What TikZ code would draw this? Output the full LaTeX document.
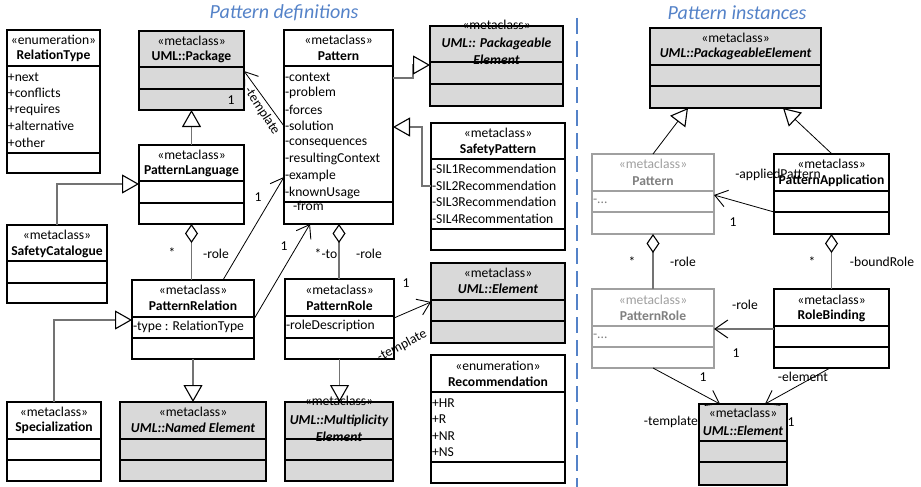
\documentclass[tikz,border=0pt]{standalone}
\usepackage{fontspec}
\setmainfont{Carlito}
\usetikzlibrary{arrows.meta,calc}

\definecolor{umlgray}{RGB}{217,217,217}
\definecolor{fadeline}{RGB}{160,160,160}
\definecolor{fadetext}{RGB}{128,128,128}
\definecolor{titleblue}{RGB}{84,130,200}
\definecolor{linkgray}{RGB}{115,115,115}

\newcommand{\uf}{\fontsize{13.6}{16}\selectfont}

% class box: name, style, border colour, x1, y1, x2, y2, first rule y, second rule y
\newcommand{\umlbox}[9]{%
  \pgfmathsetmacro{\clsW}{#6-#4}%
  \pgfmathsetmacro{\clsH}{#7-#5}%
  \node[#2, draw=#3, minimum width=\clsW pt, minimum height=\clsH pt, anchor=north west] (#1) at (#4,#5) {};
  \draw[draw=#3, line width=1.3pt] (#4,#8) -- (#6,#8) (#4,#9) -- (#6,#9);
}

\tikzset{
  every node/.style={font=\uf, inner sep=0pt, outer sep=0pt},
  box/.style={rectangle, line width=1.3pt, fill=white},
  meta/.style={box, fill=umlgray},
  st/.style={font=\uf},
  nm/.style={font=\uf\bfseries},
  nmi/.style={font=\uf\bfseries\itshape},
  attr/.style={anchor=west},
  ghst/.style={font=\uf, text=fadeline},
  ghnm/.style={font=\uf\bfseries, text=fadetext},
  ghattr/.style={anchor=west, text=fadetext},
  lbl/.style={font=\uf},
  headline/.style={font=\fontsize{20}{24}\selectfont\itshape, text=titleblue},
  divider/.style={draw=titleblue, line width=1.8pt, dash pattern=on 16pt off 7pt},
  gen/.style={draw=linkgray, line width=1.1pt,
    -{Triangle[open, length=17pt, width=19pt, line width=1.1pt, color=black, fill=white]}},
  genthin/.style={draw=black, line width=0.8pt,
    -{Triangle[open, length=17pt, width=19pt, line width=1.1pt, color=black, fill=white]}},
  nav/.style={draw=black, line width=0.8pt,
    -{Straight Barb[length=12pt, width=17pt, line width=0.9pt]}},
  navgray/.style={draw=linkgray, line width=1.1pt,
    -{Straight Barb[length=13pt, width=18pt, line width=1pt, color=black]}},
  agg/.style={draw=linkgray, line width=1.1pt,
    {Diamond[open, length=19pt, width=13pt, line width=1.1pt, color=black, fill=white]}-},
}

\begin{document}
\begin{tikzpicture}[x=1pt, y=-1pt]
\useasboundingbox (0,0) rectangle (921,487);

% headings and divider
\node[headline] (t-def) at (284,13) {Pattern definitions};
\node[headline] (t-inst) at (737,13) {Pattern instances};
\coordinate (div-top) at (577,18);
\coordinate (div-bot) at (577,487);
\draw[divider] (div-top) -- (div-bot);

% ---------------- pattern definitions ----------------
% RelationType
\umlbox{rt}{box}{black}{7}{30}{100}{173}{66}{153}
\node[st] (rt-s) at (53.5,40) {«enumeration»};
\node[nm] (rt-n) at (53.5,56) {RelationType};
\node[attr] (rt-a1) at (8,77) {+next};
\node[attr] (rt-a2) at (8,93) {+conflicts};
\node[attr] (rt-a3) at (8,110) {+requires};
\node[attr] (rt-a4) at (8,126) {+alternative};
\node[attr] (rt-a5) at (8,143) {+other};

% UML::Package
\umlbox{pkg}{meta}{black}{139}{31}{244}{110}{67}{89}
\node[st] (pkg-s) at (191.5,41) {«metaclass»};
\node[nm] (pkg-n) at (191.5,57) {UML::Package};
\node[lbl] (pkg-m) at (231,100) {1};

% PatternLanguage
\umlbox{pl}{box}{black}{139}{145}{244}{224}{181}{203}
\node[st] (pl-s) at (191.5,155) {«metaclass»};
\node[nm] (pl-n) at (191.5,171) {PatternLanguage};

% SafetyCatalogue
\umlbox{sc}{box}{black}{7}{225}{107}{303}{261}{283}
\node[st] (sc-s) at (57,235) {«metaclass»};
\node[nm] (sc-n) at (57,252) {SafetyCatalogue};

% Pattern
\umlbox{pat}{box}{black}{284}{30}{393}{224}{66}{202}
\node[st] (pat-s) at (338.5,40) {«metaclass»};
\node[nm] (pat-n) at (338.5,56) {Pattern};
\node[attr] (pat-a1) at (285,77) {-context};
\node[attr] (pat-a2) at (285,93) {-problem};
\node[attr] (pat-a3) at (285,110) {-forces};
\node[attr] (pat-a4) at (285,126) {-solution};
\node[attr] (pat-a5) at (285,143) {-consequences};
\node[attr] (pat-a6) at (285,159) {-resultingContext};
\node[attr] (pat-a7) at (285,176) {-example};
\node[attr] (pat-a8) at (285,193) {-knownUsage};
\node[attr] (pat-from) at (293,206) {-from};

% UML::PackageableElement (definitions side)
\umlbox{pe}{meta}{black}{430}{26}{563}{106}{62}{84}
\node[st] (pe-s) at (496.5,25) {«metaclass»};
\node[nmi] (pe-n1) at (496.5,44) {UML:: Packageable};
\node[nmi] (pe-n2) at (496.5,60) {Element};

% SafetyPattern
\umlbox{sp}{box}{black}{431}{123}{565}{250}{159}{229}
\node[st] (sp-s) at (498,133) {«metaclass»};
\node[nm] (sp-n) at (498,150) {SafetyPattern};
\node[attr] (sp-a1) at (432,169) {-SIL1Recommendation};
\node[attr] (sp-a2) at (432,186) {-SIL2Recommendation};
\node[attr] (sp-a3) at (432,202) {-SIL3Recommendation};
\node[attr] (sp-a4) at (432,219) {-SIL4Recommentation};

% PatternRelation
\umlbox{pr}{box}{black}{132}{280}{254}{359}{317}{338}
\node[st] (pr-s) at (193,290) {«metaclass»};
\node[nm] (pr-n) at (193,306) {PatternRelation};
\node[attr] (pr-a1) at (133,327) {-type : RelationType};

% PatternRole
\umlbox{prole}{box}{black}{285}{279}{394}{359}{316}{338}
\node[st] (prole-s) at (339.5,290) {«metaclass»};
\node[nm] (prole-n) at (339.5,306) {PatternRole};
\node[attr] (prole-a1) at (286,326) {-roleDescription};

% UML::Element (definitions side)
\umlbox{el}{meta}{black}{431}{263}{565}{343}{300}{321}
\node[st] (el-s) at (498,273) {«metaclass»};
\node[nmi] (el-n) at (498,289) {UML::Element};

% Recommendation
\umlbox{rec}{box}{black}{431}{355}{565}{483}{392}{462}
\node[st] (rec-s) at (498,366) {«enumeration»};
\node[nm] (rec-n) at (498,382) {Recommendation};
\node[attr] (rec-a1) at (432,403) {+HR};
\node[attr] (rec-a2) at (432,419) {+R};
\node[attr] (rec-a3) at (432,436) {+NR};
\node[attr] (rec-a4) at (432,452) {+NS};

% UML::MultiplicityElement
\umlbox{mult}{meta}{black}{285}{402}{393}{481}{439}{460}
\node[st] (mult-s) at (339,401) {«metaclass»};
\node[nmi] (mult-n1) at (339,421) {UML::Multiplicity};
\node[nmi] (mult-n2) at (339,437) {Element};

% UML::NamedElement
\umlbox{ne}{meta}{black}{120}{402}{266}{481}{439}{460}
\node[st] (ne-s) at (193,412) {«metaclass»};
\node[nmi] (ne-n) at (193,428) {UML::Named Element};

% Specialization
\umlbox{spec}{box}{black}{7}{402}{101}{481}{439}{460}
\node[st] (spec-s) at (54,412) {«metaclass»};
\node[nm] (spec-n) at (54,428) {Specialization};

% connectors, definitions side
\draw[gen] (pl.north) -- (pkg.south);
\draw[gen] (sc.north) |- (pl.west |- 0,184);
\draw[agg] (pl.south) -- (pl.south |- pr.north);
\draw[nav] (223,0 |- pr.north) -- (pat.west |- 0,177);
\draw[nav] (pr.east |- 0,319) -- (310,0 |- pat.south);
\draw[gen] (pat.east |- 0,78) -| (413,65) -- (pe.west |- 0,65);
\draw[gen] (sp.west |- 0,186) -| (422,127) -- (pat.east |- 0,127);
\draw[nav] (pat.west |- 0,126) -- (pkg.east |- 0,71);
\draw[agg] (339,0 |- pat.south) -- (339,0 |- prole.north);
\draw[nav] (prole.east |- 0,318) -- (el.west |- 0,302);
\draw[gen] (prole.south) -- (prole.south |- mult.north);
\draw[gen] (pr.south) -- (pr.south |- ne.north);
\draw[gen] (spec.north) |- (pr.west |- 0,320);

% connector labels, definitions side
\node[lbl, rotate=-57] (lb-tmpl1) at (262,111) {-template};
\node[lbl] (lb-one1) at (258,197) {1};
\node[lbl] (lb-star1) at (172,253) {*};
\node[lbl] (lb-role1) at (216,254) {-role};
\node[lbl] (lb-one2) at (284,246) {1};
\node[lbl] (lb-to) at (326,254) {*-to};
\node[lbl] (lb-role2) at (369,254) {-role};
\node[lbl] (lb-one3) at (406,283) {1};
\node[lbl, rotate=28] (lb-tmpl2) at (402,346) {-template};

% ---------------- pattern instances ----------------
% UML::PackageableElement (instances side)
\umlbox{rpe}{meta}{black}{650}{28}{821}{108}{65}{86}
\node[st] (rpe-s) at (735.5,38) {«metaclass»};
\node[nmi] (rpe-n) at (735.5,54) {UML::PackageableElement};

% Pattern (referenced)
\umlbox{rpat}{box}{fadeline}{592}{154}{714}{234}{191}{212}
\node[ghst] (rpat-s) at (653,164) {«metaclass»};
\node[ghnm] (rpat-n) at (653,181) {Pattern};
\node[ghattr] (rpat-a1) at (593,201) {-...};

% PatternApplication
\umlbox{pa}{box}{black}{774}{154}{889}{234}{191}{212}
\node[st] (pa-s) at (831.5,164) {«metaclass»};
\node[nm] (pa-n) at (831.5,181) {PatternApplication};

% PatternRole (referenced)
\umlbox{rrole}{box}{fadeline}{592}{289}{714}{368}{326}{347}
\node[ghst] (rrole-s) at (653,300) {«metaclass»};
\node[ghnm] (rrole-n) at (653,316) {PatternRole};
\node[ghattr] (rrole-a1) at (593,336) {-...};

% RoleBinding
\umlbox{rb}{box}{black}{774}{289}{889}{368}{326}{347}
\node[st] (rb-s) at (831.5,300) {«metaclass»};
\node[nm] (rb-n) at (831.5,316) {RoleBinding};

% UML::Element (instances side)
\umlbox{rel}{meta}{black}{699}{404}{787}{485}{441}{462}
\node[st] (rel-s) at (743,413) {«metaclass»};
\node[nmi] (rel-n) at (743,431) {UML::Element};

% connectors, instances side
\draw[genthin] (653,0 |- rpat.north) -- (688,0 |- rpe.south);
\draw[genthin] (832,0 |- pa.north) -- (783,0 |- rpe.south);
\draw[nav] (pa.west |- 0,212) -- (rpat.east |- 0,195);
\draw[agg] (rpat.south) -- (rpat.south |- rrole.north);
\draw[agg] (pa.south) -- (pa.south |- rb.north);
\draw[navgray] (rb.west |- 0,329) -- (rrole.east |- 0,329);
\draw[nav] (653,0 |- rrole.south) -- (720,0 |- rel.north);
\draw[nav] (830,0 |- rb.south) -- (765,0 |- rel.north);

% connector labels, instances side
\node[lbl] (lb-applied) at (778,175) {-appliedPattern};
\node[lbl] (lb-one4) at (733,222) {1};
\node[lbl] (lb-star2) at (632,262) {*};
\node[lbl] (lb-role3) at (683,262) {-role};
\node[lbl] (lb-star3) at (812,262) {*};
\node[lbl] (lb-bound) at (882,262) {-boundRole};
\node[lbl] (lb-role4) at (745,305) {-role};
\node[lbl] (lb-one5) at (736,353) {1};
\node[lbl] (lb-one6) at (703,377) {1};
\node[lbl] (lb-elem) at (803,377) {-element};
\node[lbl, anchor=east] (lb-tmpl3) at (698,422) {-template};
\node[lbl] (lb-one7) at (791,422) {1};
\end{tikzpicture}
\end{document}
